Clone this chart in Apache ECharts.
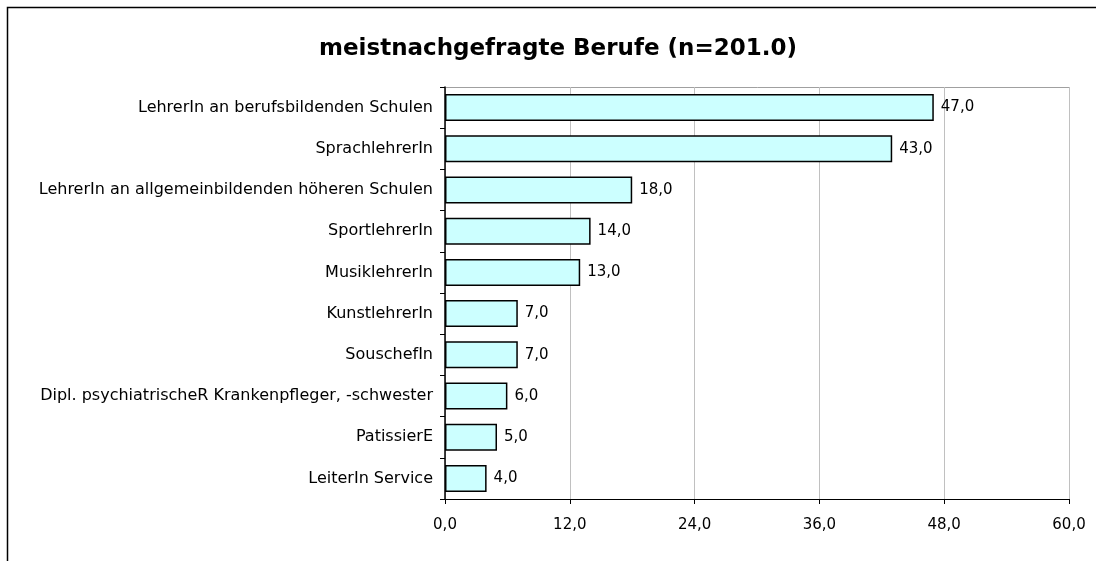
<!DOCTYPE html>
<html>
<head>
<meta charset="utf-8">
<script src="https://cdn.jsdelivr.net/npm/echarts@6/dist/echarts.min.js"></script>
<style>
html,body{margin:0;padding:0;background:#fff;}
#chart{width:1096px;height:561px;}
</style>
</head>
<body>
<div id="chart"></div>
<script>
const titleText = 'meistnachgefragte Berufe (n=201.0)';
const categories = [
  'LehrerIn an berufsbildenden Schulen',
  'SprachlehrerIn',
  'LehrerIn an allgemeinbildenden höheren Schulen',
  'SportlehrerIn',
  'MusiklehrerIn',
  'KunstlehrerIn',
  'SouschefIn',
  'Dipl. psychiatrischeR Krankenpfleger, -schwester',
  'PatissierE',
  'LeiterIn Service'
];
const values = [47, 43, 18, 14, 13, 7, 7, 6, 5, 4];
const xMin = 0, xMax = 60, xStep = 12;

const fmt = v => v.toFixed(1).replace('.', ',');
const font = 'DejaVu Sans, Verdana, sans-serif';

const chart = echarts.init(document.getElementById('chart'), null, {renderer: 'canvas'});
chart.setOption({
  animation: false,
  backgroundColor: '#fff',
  title: {
    text: titleText,
    left: 314,
    top: 33,
    textStyle: {fontFamily: font, fontSize: 23, fontWeight: 'bold', color: '#000'}
  },
  graphic: [{
    type: 'rect',
    shape: {x: 7.5, y: 7.5, width: 1100, height: 600},
    style: {fill: 'none', stroke: '#000', lineWidth: 1.5},
    silent: true
  }, {
    type: 'polyline',
    shape: {points: [[445, 87.5], [1069.5, 87.5], [1069.5, 499]]},
    style: {fill: 'none', stroke: '#a0a0a0', lineWidth: 1},
    silent: true
  }],
  grid: {left: 445, top: 87, right: 27, bottom: 62, containLabel: false},
  xAxis: {
    type: 'value',
    min: xMin, max: xMax, interval: xStep,
    axisLine: {show: true, lineStyle: {color: '#000', width: 1}},
    axisTick: {show: true, length: 5, lineStyle: {color: '#000'}},
    axisLabel: {formatter: fmt, fontFamily: font, fontSize: 15, color: '#000', margin: 19},
    splitLine: {show: true, lineStyle: {color: '#c0c0c0', width: 1}}
  },
  yAxis: {
    type: 'category',
    data: categories,
    inverse: true,
    axisLine: {show: true, lineStyle: {color: '#000', width: 1.5}},
    axisTick: {show: true, length: 5, lineStyle: {color: '#000'}},
    axisLabel: {fontFamily: font, fontSize: 16, color: '#000', margin: 12},
    splitLine: {show: false}
  },
  series: [{
    type: 'bar',
    data: values,
    barWidth: 27,
    itemStyle: {color: '#CCFFFF', borderColor: '#000', borderWidth: 1.5},
    label: {
      show: true, position: 'right', distance: 7,
      formatter: p => fmt(p.value),
      fontFamily: font, fontSize: 15, color: '#000'
    }
  }]
});
</script>
</body>
</html>
